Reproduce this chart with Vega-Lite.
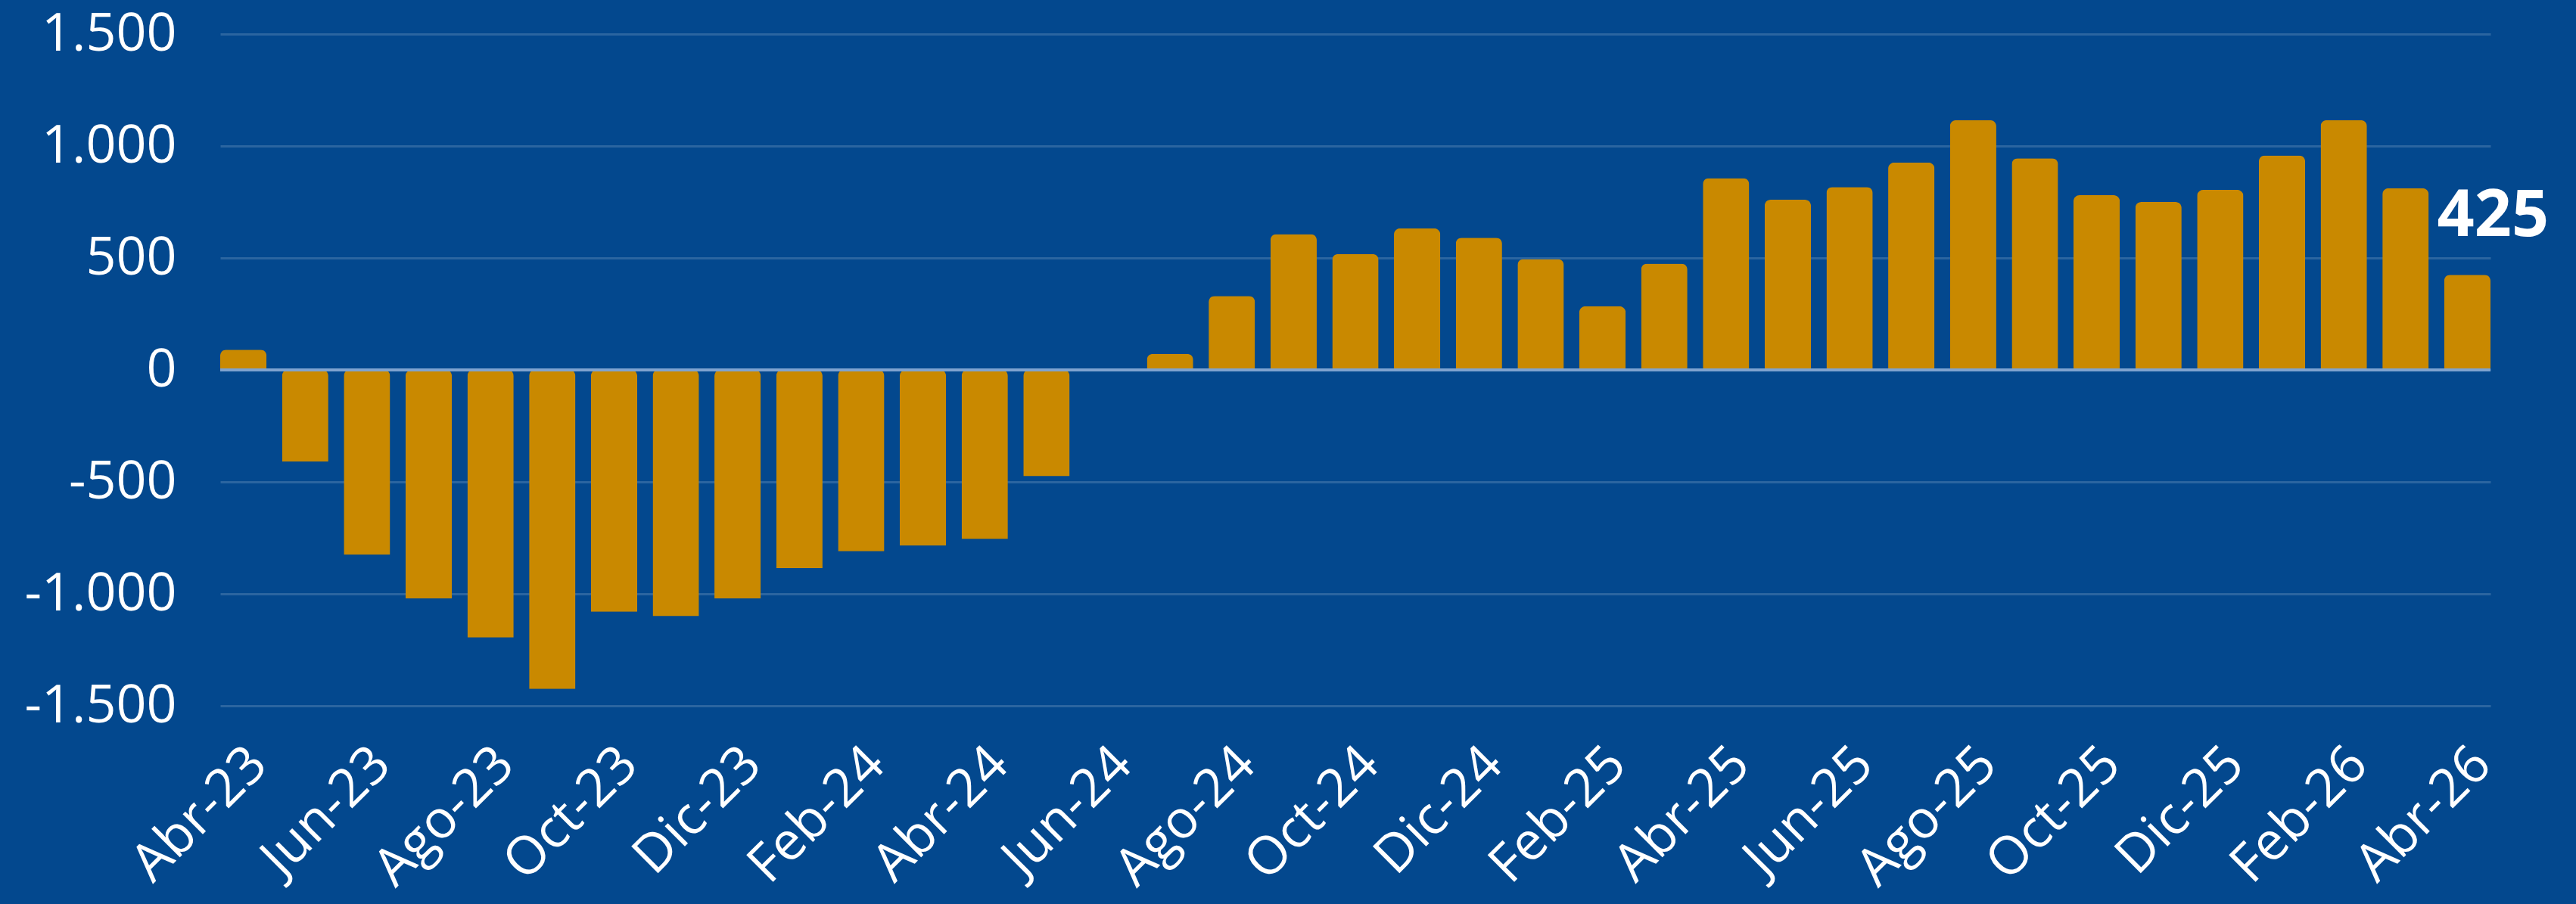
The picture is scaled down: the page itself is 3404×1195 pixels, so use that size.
{
  "$schema": "https://vega.github.io/schema/vega-lite/v6.json",
  "width": 3000,
  "height": 888,
  "autosize": {"type": "none"},
  "padding": {"left": 291, "top": 45, "right": 113, "bottom": 262},
  "background": "#03488E",
  "config": {
    "view": {"stroke": null},
    "font": "Open Sans"
  },
  "data": {
    "values": [
      {"mes": "Abr-23", "valor": 90},
      {"mes": "May-23", "valor": -410},
      {"mes": "Jun-23", "valor": -825},
      {"mes": "Jul-23", "valor": -1020},
      {"mes": "Ago-23", "valor": -1195},
      {"mes": "Sep-23", "valor": -1425},
      {"mes": "Oct-23", "valor": -1080},
      {"mes": "Nov-23", "valor": -1100},
      {"mes": "Dic-23", "valor": -1020},
      {"mes": "Ene-24", "valor": -885},
      {"mes": "Feb-24", "valor": -810},
      {"mes": "Mar-24", "valor": -785},
      {"mes": "Abr-24", "valor": -755},
      {"mes": "May-24", "valor": -475},
      {"mes": "Jun-24", "valor": -6},
      {"mes": "Jul-24", "valor": 72},
      {"mes": "Ago-24", "valor": 330},
      {"mes": "Sep-24", "valor": 606},
      {"mes": "Oct-24", "valor": 518},
      {"mes": "Nov-24", "valor": 632},
      {"mes": "Dic-24", "valor": 590},
      {"mes": "Ene-25", "valor": 495},
      {"mes": "Feb-25", "valor": 284},
      {"mes": "Mar-25", "valor": 475},
      {"mes": "Abr-25", "valor": 856},
      {"mes": "May-25", "valor": 760},
      {"mes": "Jun-25", "valor": 817},
      {"mes": "Jul-25", "valor": 926},
      {"mes": "Ago-25", "valor": 1115},
      {"mes": "Sep-25", "valor": 945},
      {"mes": "Oct-25", "valor": 780},
      {"mes": "Nov-25", "valor": 750},
      {"mes": "Dic-25", "valor": 804},
      {"mes": "Ene-26", "valor": 958},
      {"mes": "Feb-26", "valor": 1115},
      {"mes": "Mar-26", "valor": 811},
      {"mes": "Abr-26", "valor": 425, "etiqueta": "425"}
    ]
  },
  "encoding": {
    "x": {
      "field": "mes",
      "type": "nominal",
      "sort": null,
      "scale": {"paddingInner": 0.25, "paddingOuter": 0},
      "axis": {
        "title": null,
        "domain": false,
        "ticks": false,
        "grid": false,
        "values": ["Abr-23","Jun-23","Ago-23","Oct-23","Dic-23","Feb-24","Abr-24","Jun-24","Ago-24","Oct-24","Dic-24","Feb-25","Abr-25","Jun-25","Ago-25","Oct-25","Dic-25","Feb-26","Abr-26"],
        "labelAngle": -45,
        "labelAlign": "right",
        "labelBaseline": "middle",
        "labelFontSize": 70,
        "labelColor": "#FFFFFF",
        "labelPadding": 66,
        "labelOffset": 20,
        "labelOverlap": false,
        "labelLimit": 0,
        "labelFont": "Open Sans"
      }
    }
  },
  "layer": [
    {
      "mark": {"type": "bar", "color": "#C98900", "cornerRadiusEnd": 8},
      "encoding": {
        "y": {
          "field": "valor",
          "type": "quantitative",
          "scale": {"domain": [-1500, 1500], "nice": false},
          "axis": {
            "title": null,
            "domain": false,
            "ticks": false,
            "values": [-1500, -1000, -500, 0, 500, 1000, 1500],
            "labelExpr": "replace(replace(format(datum.value, ','), ',', '.'), '\u2212', '-')",
            "labelFontSize": 70,
            "labelColor": "#FFFFFF",
            "labelPadding": 58,
            "labelLimit": 0,
            "labelFont": "Open Sans",
            "grid": true,
            "gridColor": "#FFFFFF",
            "gridOpacity": 0.16,
            "gridWidth": 3
          }
        }
      }
    },
    {
      "mark": {"type": "rule", "color": "#7FA3D0", "strokeWidth": 3},
      "encoding": {"y": {"datum": 0, "type": "quantitative"}, "x": null}
    },
    {
      "transform": [{"filter": "datum.etiqueta != null"}],
      "mark": {
        "type": "text",
        "fontSize": 86,
        "fontWeight": "bold",
        "font": "Open Sans",
        "color": "#FFFFFF",
        "baseline": "alphabetic",
        "align": "center",
        "dx": 34,
        "dy": -51
      },
      "encoding": {
        "y": {"field": "valor", "type": "quantitative"},
        "text": {"field": "etiqueta"}
      }
    }
  ]
}
